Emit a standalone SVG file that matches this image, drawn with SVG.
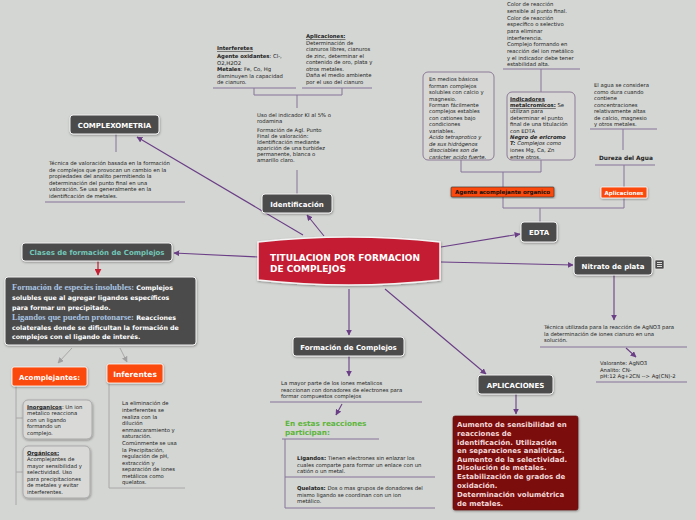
<svg xmlns="http://www.w3.org/2000/svg" width="696" height="520" viewBox="0 0 696 520">
<style>
.t{font-family:"DejaVu Sans",Verdana,sans-serif;font-size:5.3px;fill:#222}
.b{font-weight:bold}
.i{font-style:italic}
.u{text-decoration:underline}
.nl{font-family:"DejaVu Sans",Verdana,sans-serif;font-size:7px;font-weight:bold;fill:#fff;text-anchor:middle}
.dk{fill:#4b4b4b;stroke:#f2f2f2;stroke-width:1}
.or{fill:#fb4a0b;stroke:#fff;stroke-width:0.8}
.ln{stroke:#86749a;stroke-width:1;fill:none}
.gl{stroke:#a8a8a8;stroke-width:1;fill:none}
.cn{stroke:#6b3f86;stroke-width:1.1;fill:none}
.bx{fill:#d7d8d6;stroke:#8c7a96;stroke-width:1}
.gb{fill:#d9dad8;stroke:#a9a9a9;stroke-width:1}
.wb{font-family:"DejaVu Sans",Verdana,sans-serif;font-size:6.3px;font-weight:bold;fill:#fff}
.sf{font-family:"Liberation Serif","Times New Roman",serif;font-size:8.5px;font-weight:bold;fill:#a9c4e2}
</style>
<defs>
<marker id="ap" viewBox="0 0 10 10" refX="9" refY="5" markerWidth="6" markerHeight="6" markerUnits="userSpaceOnUse" orient="auto"><path d="M0,0 L10,5 L0,10 z" fill="#6b3f86"/></marker>
<marker id="ar" viewBox="0 0 10 10" refX="9" refY="5" markerWidth="7" markerHeight="7" markerUnits="userSpaceOnUse" orient="auto"><path d="M0,0 L10,5 L0,10 z" fill="#c41f33"/></marker>
<marker id="ag" viewBox="0 0 10 10" refX="9" refY="5" markerWidth="6" markerHeight="6" markerUnits="userSpaceOnUse" orient="auto"><path d="M0,0 L10,5 L0,10 z" fill="#a0a0a0"/></marker>
<filter id="sh" x="-10%" y="-10%" width="120%" height="130%"><feDropShadow dx="0.5" dy="1" stdDeviation="0.8" flood-color="#000" flood-opacity="0.35"/></filter>
</defs>
<rect width="696" height="520" fill="#d4d6d3"/>

<g id="connectors">
<path class="cn" d="M258,257 L174,253" marker-end="url(#ap)"/>
<path class="cn" d="M324,236 L307,215" marker-end="url(#ap)"/>
<path class="cn" d="M303,235 L137,137" marker-end="url(#ap)"/>
<path class="cn" d="M441,247 L520,234" marker-end="url(#ap)"/>
<path class="cn" d="M441,262 L573,265" marker-end="url(#ap)"/>
<path class="cn" d="M349,289 L349,335" marker-end="url(#ap)"/>
<path class="cn" d="M385,289 L486,374" marker-end="url(#ap)"/>
<path class="cn" d="M516,394 L516,414" marker-end="url(#ap)"/>
<path class="cn" d="M614,275 L614,320" marker-end="url(#ap)"/>
<path class="cn" d="M349,356 L349,376" marker-end="url(#ap)"/>
<path class="cn" d="M342,404 L336,415" marker-end="url(#ap)"/>
<path class="cn" d="M626,348 L636,357" marker-end="url(#ap)"/>
<path d="M98,261 L98,275" stroke="#c41f33" stroke-width="1.2" marker-end="url(#ar)"/>
<path class="gl" d="M72,348 L58,363" marker-end="url(#ag)"/>
<path class="gl" d="M120,348 L127,362" marker-end="url(#ag)"/>
<!-- structure lines -->
<path class="ln" d="M213,88 H296 M302,88 H372 M254,88 V95 M342,88 V95 M254,95 H342 M297,95 V108"/>
<path class="ln" d="M297,170 V194"/>
<path class="ln" d="M116,134 V152 M45,202 H185"/>
<path class="ln" d="M503,69 H580 M541,69 V92"/>
<path class="ln" d="M461,160 V172 M541,160 V172 M461,172 H541 M503,172 V187 M503,197 V208 H624 M540,208 V222 M624,198 V208"/>
<path class="ln" d="M590,129 H657 M623,129 V150 M595,165 H655 M624,165 V187"/>
<path class="ln" d="M540,347 H687 M596,382 H687"/>
<path class="ln" d="M270,402 H422 M282,439 H379 M285,439 V508 M285,477 H435 M285,508 H435"/>
<path class="gl" d="M16,386 V505 M16,418 H23 M16,472 H23"/>
<path class="gl" d="M109,383 V488 H185"/>
</g>

<g id="central">
<path d="M258,242 Q349,232 440,242 L440,280 Q349,290 258,280 Z" fill="#c41f33" stroke="#f4f4f4" stroke-width="1.5" filter="url(#sh)"/>
<text font-family="DejaVu Sans,Verdana,sans-serif" font-size="9" font-weight="bold" fill="#fff"><tspan x="270" y="261">TITULACION POR FORMACION</tspan><tspan x="270" y="272">DE COMPLEJOS</tspan></text>
</g>

<g id="identificacion">
<rect class="dk" x="262" y="194" width="70" height="19" rx="3" filter="url(#sh)"/>
<text class="nl" x="297" y="206.5">Identificación</text>
</g>
<g id="identificacion-text">
<text class="t"><tspan x="257" y="117">Uso del indicador KI al 5% o</tspan><tspan x="257" y="123">rodamina</tspan><tspan x="257" y="132">Formación de AgI. Punto</tspan><tspan x="257" y="138">Final de valoración:</tspan><tspan x="257" y="144">Identificación mediante</tspan><tspan x="257" y="150">aparición de una turbidez</tspan><tspan x="257" y="156">permanente, blanca o</tspan><tspan x="257" y="162">amarillo claro.</tspan></text>
</g>
<g id="interferentes">
<text class="t"><tspan x="217" y="50" class="b u">Interferetes</tspan><tspan x="217" y="58" class="b">Agente oxidantes<tspan font-weight="normal">: Cl-,</tspan></tspan><tspan x="217" y="64.5">O2,H2O2</tspan><tspan x="217" y="71" class="b">Metales<tspan font-weight="normal">: Fe, Co, Hg</tspan></tspan><tspan x="217" y="77.5">disminuyen la capacidad</tspan><tspan x="217" y="84">de cianuro.</tspan></text>
</g>
<g id="aplicaciones-ident">
<text class="t"><tspan x="306" y="38" class="b u">Aplicaciones:</tspan><tspan x="306" y="44.5">Determinación de</tspan><tspan x="306" y="51">cianuros libres, cianuros</tspan><tspan x="306" y="57.5">de zinc, determinar el</tspan><tspan x="306" y="64">contenido de oro, plata y</tspan><tspan x="306" y="70.5">otros metales.</tspan><tspan x="306" y="77">Daña el medio ambiente</tspan><tspan x="306" y="83.5">por el uso del cianuro</tspan></text>
</g>

<g id="complexometria">
<rect class="dk" x="70" y="115" width="89" height="19" rx="3" filter="url(#sh)"/>
<text class="nl" x="114.5" y="127.5">COMPLEXOMETRIA</text>
</g>
<g id="complexometria-text">
<text class="t"><tspan x="49" y="165">Técnica de valoración basada en la formación</tspan><tspan x="49" y="171.5">de complejos que provocan un cambio en la</tspan><tspan x="49" y="178">propiedades del analito permitiendo la</tspan><tspan x="49" y="184.5">determinación del punto final en una</tspan><tspan x="49" y="191">valoración. Se usa generalmente en la</tspan><tspan x="49" y="197.5">identificación de metales.</tspan></text>
</g>

<g id="clases">
<rect class="dk" x="22" y="243" width="150" height="18" rx="3" filter="url(#sh)"/>
<text class="nl" x="97" y="255" fill="#72c7b8" style="fill:#72c7b8">Clases de formación de Complejos</text>
</g>
<g id="clases-box">
<rect class="dk" x="5" y="277" width="191" height="68" rx="3" filter="url(#sh)"/>
<text><tspan x="12" y="290" class="sf">Formación de especies insolubles:</tspan><tspan class="wb"> Complejos</tspan><tspan x="12" y="300" class="wb">solubles que al agregar ligandos específicos</tspan><tspan x="12" y="309.5" class="wb">para formar un precipitado.</tspan><tspan x="12" y="320" class="sf">Ligandos que pueden protonarse:</tspan><tspan class="wb"> Reacciones</tspan><tspan x="12" y="330" class="wb">colaterales donde se dificultan la formación de</tspan><tspan x="12" y="339" class="wb">complejos con el ligando de interés.</tspan></text>
</g>

<g id="acomplejantes">
<rect class="or" x="12" y="367" width="75" height="19" rx="2" filter="url(#sh)"/>
<text class="nl" x="49.5" y="379.5">Acomplejantes:</text>
</g>
<g id="inferentes">
<rect class="or" x="107" y="364" width="56" height="19" rx="2" filter="url(#sh)"/>
<text class="nl" x="135" y="376.5" font-size="7.5" style="font-size:7.5px">Inferentes</text>
</g>
<g id="inorganicos">
<rect class="gb" x="23" y="400" width="69" height="39" rx="5" filter="url(#sh)"/>
<text class="t"><tspan x="27" y="408.5"><tspan class="b u">Inorganicos</tspan>: Un ion</tspan><tspan x="27" y="415">metalico reacciona</tspan><tspan x="27" y="421.5">con un ligando</tspan><tspan x="27" y="428">formando un</tspan><tspan x="27" y="434.5">complejo.</tspan></text>
</g>
<g id="organicos">
<rect class="gb" x="23" y="446" width="67" height="52" rx="5" filter="url(#sh)"/>
<text class="t"><tspan x="27" y="454.5" class="b u">Orgánicos:</tspan><tspan x="27" y="461">Acomplejantes de</tspan><tspan x="27" y="467.5">mayor sensibilidad y</tspan><tspan x="27" y="474">selectividad. Uso</tspan><tspan x="27" y="480.5">para precipitaciones</tspan><tspan x="27" y="487">de metales y evitar</tspan><tspan x="27" y="493.5">interferentes.</tspan></text>
</g>
<g id="inferentes-text">
<text class="t"><tspan x="122" y="405">La eliminación de</tspan><tspan x="122" y="412">interferentes se</tspan><tspan x="122" y="418.5">realiza con la</tspan><tspan x="122" y="425">dilución</tspan><tspan x="122" y="431.5">enmascaramiento y</tspan><tspan x="122" y="438">saturación.</tspan><tspan x="122" y="445">Comúnmente se usa</tspan><tspan x="122" y="451.5">la Precipitación,</tspan><tspan x="122" y="458">regulación de pH,</tspan><tspan x="122" y="464.5">extracción y</tspan><tspan x="122" y="471">separación de iones</tspan><tspan x="122" y="477.5">metálicos como</tspan><tspan x="122" y="484">quelatos.</tspan></text>
</g>

<g id="formacion">
<rect class="dk" x="293" y="337" width="111" height="19" rx="3" filter="url(#sh)"/>
<text class="nl" x="348.5" y="349.5">Formación de Complejos</text>
</g>
<g id="formacion-text">
<text class="t"><tspan x="281" y="385">La mayor parte de los iones metalicos</tspan><tspan x="281" y="391.5">reaccionan con donadores de electrones para</tspan><tspan x="281" y="398">formar compuestos complejos</tspan></text>
<text font-family="DejaVu Sans,Verdana,sans-serif" font-size="7.3" font-weight="bold" fill="#5db53a"><tspan x="285" y="426">En estas reacciones</tspan><tspan x="285" y="435">participan:</tspan></text>
<text class="t"><tspan x="297" y="460"><tspan class="b">Ligandos:</tspan> Tienen electrones sin enlazar los</tspan><tspan x="297" y="466.5">cuales comparte para formar un enlace con un</tspan><tspan x="297" y="473">catión o un metal.</tspan><tspan x="297" y="490"><tspan class="b">Quelatos:</tspan> Dos o mas grupos de donadores del</tspan><tspan x="297" y="496.5">mismo ligando se coordinan con un ion</tspan><tspan x="297" y="503">metálico.</tspan></text>
</g>

<g id="aplicaciones">
<rect class="dk" x="478" y="375" width="75" height="19" rx="3" filter="url(#sh)"/>
<text class="nl" x="515.5" y="387.5">APLICACIONES</text>
</g>
<g id="aplicaciones-box">
<rect x="453" y="416" width="125" height="94" rx="2" fill="#7b0c0e" stroke="#5a0a0a" stroke-width="0.6" filter="url(#sh)"/>
<text font-family="DejaVu Sans,Verdana,sans-serif" font-size="7" font-weight="bold" fill="#f2d9d9"><tspan x="457" y="426.5">Aumento de sensibilidad en</tspan><tspan x="457" y="435.5">reacciones de</tspan><tspan x="457" y="444.5">identificación. Utilización</tspan><tspan x="457" y="453">en separaciones analíticas.</tspan><tspan x="457" y="461.5">Aumento de la selectividad.</tspan><tspan x="457" y="470">Disolución de metales.</tspan><tspan x="457" y="479">Estabilización de grados de</tspan><tspan x="457" y="488">oxidación.</tspan><tspan x="457" y="497">Determinación volumétrica</tspan><tspan x="457" y="506">de metales.</tspan></text>
</g>

<g id="nitrato">
<rect class="dk" x="574" y="256" width="78" height="19" rx="3" filter="url(#sh)"/>
<text class="nl" x="613" y="268.5">Nitrato de plata</text>
<rect x="655" y="260" width="9" height="9" rx="1" fill="#4b4b4b" stroke="#eee" stroke-width="0.6"/>
<path d="M657,262.5 H662 M657,264.5 H662 M657,266.5 H662" stroke="#fff" stroke-width="0.8"/>
</g>
<g id="nitrato-text">
<text class="t"><tspan x="544" y="329">Técnica utilizada para la reacción de AgNO3 para</tspan><tspan x="544" y="335.5">la determinación de iones cianuro en una</tspan><tspan x="544" y="342">solución.</tspan><tspan x="600" y="365">Valorante: AgNO3</tspan><tspan x="600" y="371.5">Analito: CN-</tspan><tspan x="600" y="378">pH:12 Ag+2CN --&gt; Ag(CN)-2</tspan></text>
</g>

<g id="edta">
<rect class="dk" x="521" y="222" width="36" height="20" rx="3" filter="url(#sh)"/>
<text class="nl" x="539" y="235">EDTA</text>
</g>
<g id="agente">
<rect x="451" y="187" width="103" height="10" rx="1" fill="#fb4a0b" stroke="#333" stroke-width="0.6" filter="url(#sh)"/>
<text font-family="DejaVu Sans,Verdana,sans-serif" font-size="5.5" font-weight="bold" fill="#111" text-anchor="middle" x="502.5" y="194">Agente acomplejante organico</text>
</g>
<g id="aplicaciones-edta">
<rect class="or" x="601" y="187" width="46" height="11" rx="1" filter="url(#sh)"/>
<text font-family="DejaVu Sans,Verdana,sans-serif" font-size="5.5" font-weight="bold" fill="#fff" text-anchor="middle" x="624" y="194.5">Aplicaciones</text>
</g>
<g id="medios">
<rect class="bx" x="423" y="72" width="71" height="88" rx="5"/>
<text class="t"><tspan x="429" y="81">En medios básicos</tspan><tspan x="429" y="87.5">forman complejos</tspan><tspan x="429" y="94">solubles con calcio y</tspan><tspan x="429" y="100.5">magnesio.</tspan><tspan x="429" y="107">Forman fácilmente</tspan><tspan x="429" y="113">complejos estables</tspan><tspan x="429" y="119.5">con cationes bajo</tspan><tspan x="429" y="126">condiciones</tspan><tspan x="429" y="132.5">variables.</tspan><tspan x="429" y="139" class="i">Acido tetraprotico y</tspan><tspan x="429" y="145.5" class="i">de sus hidrógenos</tspan><tspan x="429" y="152" class="i">disociables son de</tspan><tspan x="429" y="158.5" class="i">carácter acido fuerte.</tspan></text>
</g>
<g id="indicadores">
<rect class="bx" x="507" y="92" width="68" height="68" rx="5"/>
<text class="t"><tspan x="510" y="100.5" class="b u">Indicadores</tspan><tspan x="510" y="107"><tspan class="b u">metalcromicos:</tspan> Se</tspan><tspan x="510" y="113">utilizan para</tspan><tspan x="510" y="119.5">determinar el punto</tspan><tspan x="510" y="126">final de una titulación</tspan><tspan x="510" y="132.5">con EDTA</tspan><tspan x="510" y="138.5" class="b i">Negro de ericromo</tspan><tspan x="510" y="145" class="i"><tspan class="b">T:</tspan> Complejos como</tspan><tspan x="510" y="152">iones Mg, Ca, Zn</tspan><tspan x="510" y="158.5">entre otros.</tspan></text>
</g>
<g id="edta-top">
<text class="t"><tspan x="507" y="6">Color de reacción</tspan><tspan x="507" y="13">sensible al punto final.</tspan><tspan x="507" y="19.5">Color de reacción</tspan><tspan x="507" y="26">específico o selectivo</tspan><tspan x="507" y="33">para eliminar</tspan><tspan x="507" y="39.5">interferencia.</tspan><tspan x="507" y="46">Complejo formando en</tspan><tspan x="507" y="53">reacción del ion metálico</tspan><tspan x="507" y="59.5">y el indicador debe tener</tspan><tspan x="507" y="66">estabilidad alta.</tspan></text>
</g>
<g id="dureza">
<text class="t"><tspan x="594" y="87">El agua se considera</tspan><tspan x="594" y="93.5">como dura cuando</tspan><tspan x="594" y="100">contiene</tspan><tspan x="594" y="106.5">concentraciones</tspan><tspan x="594" y="113">relativamente altas</tspan><tspan x="594" y="119.5">de calcio, magnesio</tspan><tspan x="594" y="126">y otros metales.</tspan></text>
<text font-family="DejaVu Sans,Verdana,sans-serif" font-size="5.8" font-weight="bold" fill="#222" x="599" y="160">Dureza del Agua</text>
</g>
</svg>
